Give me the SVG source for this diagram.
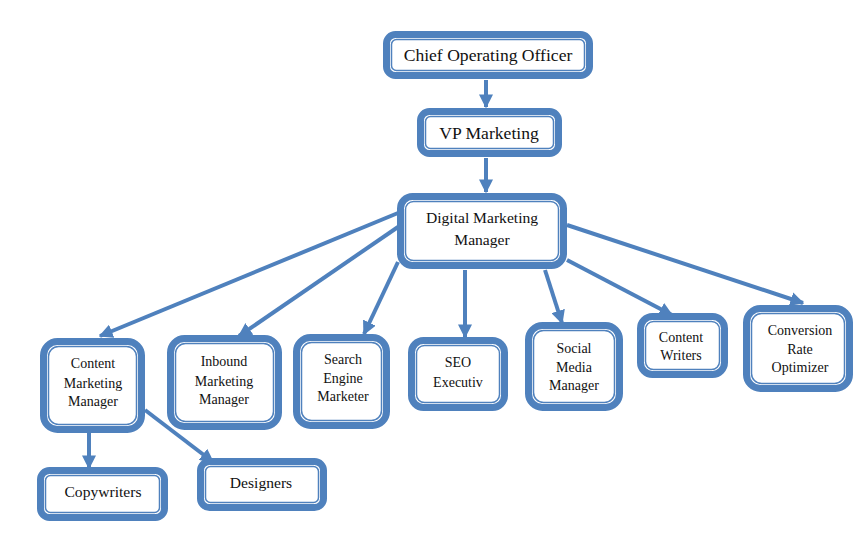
<svg xmlns="http://www.w3.org/2000/svg" width="867" height="537" viewBox="0 0 867 537">
<style>
.o{fill:#fff;stroke:#4F81BD;stroke-width:7}
.i{fill:none;stroke:#4F81BD;stroke-width:1.5}
text{font-family:"Liberation Serif","Times New Roman",serif;fill:#111;text-anchor:middle}
.s{font-size:14px}
.m{font-size:15.6px}
.l{font-size:17.6px}
.c{stroke:#4F81BD;stroke-width:4;fill:none;marker-end:url(#a)}
</style>
<defs>
<marker id="a" markerUnits="userSpaceOnUse" markerWidth="14" markerHeight="14" viewBox="0 0 10 10" refX="9" refY="5" orient="auto">
<path d="M0,0 L10,5 L0,10 z" fill="#4F81BD"/>
</marker>
</defs>
<rect width="867" height="537" fill="#fff"/>
<g id="connectors">
<line class="c" x1="486" y1="80" x2="486" y2="107"/>
<line class="c" x1="486" y1="158" x2="486" y2="192"/>
<line class="c" x1="398" y1="213" x2="100" y2="336"/>
<line class="c" x1="398" y1="227" x2="239" y2="336"/>
<line class="c" x1="398" y1="262" x2="364" y2="334"/>
<line class="c" x1="465" y1="270" x2="465" y2="337"/>
<line class="c" x1="545" y1="270" x2="562" y2="323"/>
<line class="c" x1="567" y1="260" x2="672" y2="315"/>
<line class="c" x1="567" y1="225" x2="803" y2="303"/>
<line class="c" x1="89" y1="432" x2="89" y2="468"/>
<line class="c" x1="145" y1="410" x2="213" y2="462"/>
</g>
<g id="coo">
<rect class="o" x="386.5" y="34.5" width="203" height="41" rx="9"/>
<rect class="i" x="391.5" y="39.5" width="193" height="31" rx="5"/>
<text class="l" x="488" y="61">Chief Operating Officer</text>
</g>
<g id="vp">
<rect class="o" x="420.5" y="111.5" width="138" height="42" rx="9"/>
<rect class="i" x="425.5" y="116.5" width="128" height="32" rx="5"/>
<text class="l" x="489" y="139">VP Marketing</text>
</g>
<g id="dmm">
<rect class="o" x="400.5" y="196.5" width="163" height="69" rx="12"/>
<rect class="i" x="405.5" y="201.5" width="153" height="59" rx="8"/>
<text class="m" x="482" y="223">Digital Marketing</text>
<text class="m" x="482" y="245">Manager</text>
</g>
<g id="cmm">
<rect class="o" x="43.5" y="341.5" width="98" height="88" rx="14"/>
<rect class="i" x="48.5" y="346.5" width="88" height="78" rx="10"/>
<text class="s" x="93" y="368">Content</text>
<text class="s" x="93" y="388">Marketing</text>
<text class="s" x="93" y="406">Manager</text>
</g>
<g id="inbound">
<rect class="o" x="170.5" y="338.5" width="108" height="88" rx="14"/>
<rect class="i" x="175.5" y="343.5" width="98" height="78" rx="10"/>
<text class="s" x="224" y="366">Inbound</text>
<text class="s" x="224" y="386">Marketing</text>
<text class="s" x="224" y="404">Manager</text>
</g>
<g id="sem">
<rect class="o" x="296.5" y="337.5" width="90" height="88" rx="14"/>
<rect class="i" x="301.5" y="342.5" width="80" height="78" rx="10"/>
<text class="s" x="343" y="364">Search</text>
<text class="s" x="343" y="383">Engine</text>
<text class="s" x="343" y="401">Marketer</text>
</g>
<g id="seo">
<rect class="o" x="411.5" y="340.5" width="93" height="67" rx="12"/>
<rect class="i" x="416.5" y="345.5" width="83" height="57" rx="8"/>
<text class="s" x="458" y="367">SEO</text>
<text class="s" x="458" y="387">Executiv</text>
</g>
<g id="social">
<rect class="o" x="528.5" y="325.5" width="91" height="82" rx="14"/>
<rect class="i" x="533.5" y="330.5" width="81" height="72" rx="10"/>
<text class="s" x="574" y="353">Social</text>
<text class="s" x="574" y="372">Media</text>
<text class="s" x="574" y="390">Manager</text>
</g>
<g id="cw">
<rect class="o" x="640.5" y="316.5" width="84" height="58" rx="12"/>
<rect class="i" x="645.5" y="321.5" width="74" height="48" rx="8"/>
<text class="s" x="681" y="342">Content</text>
<text class="s" x="681" y="360">Writers</text>
</g>
<g id="cro">
<rect class="o" x="746.5" y="308.5" width="103" height="80" rx="14"/>
<rect class="i" x="751.5" y="313.5" width="93" height="70" rx="10"/>
<text class="s" x="800" y="335">Conversion</text>
<text class="s" x="800" y="354">Rate</text>
<text class="s" x="800" y="372">Optimizer</text>
</g>
<g id="copy">
<rect class="o" x="40.5" y="470.5" width="124" height="47" rx="9"/>
<rect class="i" x="45.5" y="475.5" width="114" height="37" rx="5"/>
<text class="m" x="103" y="497">Copywriters</text>
</g>
<g id="designers">
<rect class="o" x="200.5" y="461.5" width="123" height="46" rx="9"/>
<rect class="i" x="205.5" y="466.5" width="113" height="36" rx="5"/>
<text class="m" x="261" y="488">Designers</text>
</g>
</svg>
